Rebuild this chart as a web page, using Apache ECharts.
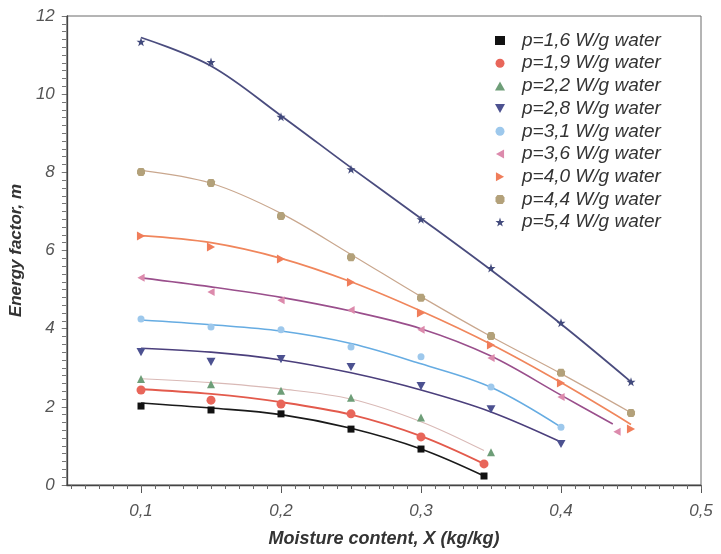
<!DOCTYPE html>
<html>
<head>
<meta charset="utf-8">
<script src="https://cdn.jsdelivr.net/npm/echarts@6/dist/echarts.min.js"></script>
<style>
  html, body { margin: 0; padding: 0; background: #ffffff; }
  #chart { width: 721px; height: 554px; }
</style>
</head>
<body>
<div id="chart"></div>
<script>
// Axis ticks and their printed labels (decimal comma)
const xTickValues = [0.1, 0.2, 0.3, 0.4, 0.5];
const xTickLabels = ['0,1', '0,2', '0,3', '0,4', '0,5'];
const yTickLabels = ['0', '2', '4', '6', '8', '10', '12'];

// Legend entries, one per microwave power level
const seriesNames = [
  'p=1,6 W/g water', 'p=1,9 W/g water', 'p=2,2 W/g water',
  'p=2,8 W/g water', 'p=3,1 W/g water', 'p=3,6 W/g water',
  'p=4,0 W/g water', 'p=4,4 W/g water', 'p=5,4 W/g water'
];

// Measured energy factor m vs. moisture content X, and the fitted curve at the same X
const x16 = [0.1, 0.15, 0.2, 0.25, 0.3, 0.345];
const m16 = [2.02, 1.92, 1.82, 1.43, 0.92, 0.23];
const fit16 = [2.10, 1.97, 1.80, 1.45, 0.92, 0.23];

const x19 = [0.1, 0.15, 0.2, 0.25, 0.3, 0.345];
const m19 = [2.43, 2.17, 2.07, 1.82, 1.23, 0.54];
const fit19 = [2.45, 2.33, 2.12, 1.80, 1.25, 0.54];

const x22 = [0.1, 0.15, 0.2, 0.25, 0.3, 0.35];
const m22 = [2.71, 2.58, 2.41, 2.23, 1.73, 0.84];
const fitX22 = [0.1, 0.15, 0.2, 0.25, 0.3, 0.345];
const fit22 = [2.72, 2.62, 2.46, 2.20, 1.62, 0.88];

const x28 = [0.1, 0.15, 0.2, 0.25, 0.3, 0.35, 0.4];
const m28 = [3.40, 3.15, 3.22, 3.02, 2.53, 1.94, 1.05];
const fit28 = [3.50, 3.40, 3.20, 2.87, 2.43, 1.87, 1.10];

const x31 = [0.1, 0.15, 0.2, 0.25, 0.3, 0.35, 0.4];
const m31 = [4.25, 4.04, 3.97, 3.53, 3.28, 2.51, 1.48];
const fit31 = [4.22, 4.10, 3.94, 3.62, 3.10, 2.50, 1.48];

const x36 = [0.1, 0.15, 0.2, 0.25, 0.3, 0.35, 0.4, 0.44];
const m36 = [5.30, 4.94, 4.73, 4.48, 3.97, 3.25, 2.25, 1.36];
const fitX36 = [0.1, 0.15, 0.2, 0.25, 0.3, 0.35, 0.4, 0.437];
const fit36 = [5.30, 5.07, 4.80, 4.45, 4.00, 3.30, 2.30, 1.56];

const x40 = [0.1, 0.15, 0.2, 0.25, 0.3, 0.35, 0.4, 0.45];
const m40 = [6.37, 6.09, 5.78, 5.19, 4.40, 3.58, 2.61, 1.43];
const fit40 = [6.38, 6.20, 5.80, 5.20, 4.45, 3.60, 2.62, 1.55];

const x44 = [0.1, 0.15, 0.2, 0.25, 0.3, 0.35, 0.4, 0.45];
const m44 = [8.01, 7.73, 6.88, 5.83, 4.79, 3.81, 2.87, 1.84];
const fit44 = [8.05, 7.72, 6.95, 5.90, 4.82, 3.80, 2.85, 1.85];

const x54 = [0.1, 0.15, 0.2, 0.25, 0.3, 0.35, 0.4, 0.45];
const m54 = [11.34, 10.82, 9.42, 8.08, 6.80, 5.55, 4.15, 2.64];
const fit54 = [11.45, 10.72, 9.45, 8.12, 6.82, 5.50, 4.12, 2.64];

// Marker shapes
const TRI_DOWN = 'path://M0,0 L10,0 L5,9 Z';
const TRI_LEFT = 'path://M9,0 L9,10 L0,5 Z';
const TRI_RIGHT = 'path://M0,0 L0,10 L9,5 Z';
const STAR = 'path://M5,0 L6.2,3.8 L10,3.8 L7,6.2 L8.1,10 L5,7.6 L1.9,10 L3,6.2 L0,3.8 L3.8,3.8 Z';
const BLOB = 'path://M2,0 L8,0 L10,3 L10,7 L8,10 L2,10 L0,7 L0,3 Z';

const groups = [
  { xs: x16, ys: m16, fx: x16, fy: fit16, symbol: 'rect', size: 7, color: '#111111', line: '#1a1a1a', lw: 1.6 },
  { xs: x19, ys: m19, fx: x19, fy: fit19, symbol: 'circle', size: 9, color: '#e8665a', line: '#e35a4c', lw: 1.8 },
  { xs: x22, ys: m22, fx: fitX22, fy: fit22, symbol: 'triangle', size: 8, color: '#6e9e78', line: '#d9b9b6', lw: 1.1 },
  { xs: x28, ys: m28, fx: x28, fy: fit28, symbol: TRI_DOWN, size: 9, color: '#4c5190', line: '#4b3f7c', lw: 1.6 },
  { xs: x31, ys: m31, fx: x31, fy: fit31, symbol: 'circle', size: 7, color: '#9dc8ec', line: '#66ace2', lw: 1.6 },
  { xs: x36, ys: m36, fx: fitX36, fy: fit36, symbol: TRI_LEFT, size: 8, color: '#dc8aac', line: '#9a4f8c', lw: 1.6 },
  { xs: x40, ys: m40, fx: x40, fy: fit40, symbol: TRI_RIGHT, size: 9, color: '#f07d5a', line: '#f0865c', lw: 1.7 },
  { xs: x44, ys: m44, fx: x44, fy: fit44, symbol: BLOB, size: 8, color: '#b3a17a', line: '#c9a78e', lw: 1.2 },
  { xs: x54, ys: m54, fx: x54, fy: fit54, symbol: STAR, size: 9, color: '#424a7c', line: '#4a4c7e', lw: 1.8 }
];

const pairs = (xs, ys) => xs.map((x, i) => [x, ys[i]]);

const series = [];
groups.forEach((g, i) => {
  series.push({
    name: seriesNames[i] + ' fit',
    type: 'line',
    data: pairs(g.fx, g.fy),
    smooth: 0.35,
    showSymbol: false,
    silent: true,
    lineStyle: { color: g.line, width: g.lw },
    z: 2
  });
});
groups.forEach((g, i) => {
  series.push({
    name: seriesNames[i],
    type: 'scatter',
    data: pairs(g.xs, g.ys),
    symbol: g.symbol,
    symbolSize: g.size,
    symbolKeepAspect: true,
    itemStyle: { color: g.color, opacity: 1 },
    z: 3
  });
});

// Fine ticks every 0.01 along X
const xMinor = [];
for (let k = 5; k <= 50; k++) xMinor.push(+(k / 100).toFixed(2));

const X_MIN = 0.047, X_MAX = 0.5;
const GRID = { left: 62, right: 20, top: 16, bottom: 69 };
const GRID_W = 721 - GRID.left - GRID.right;
const GRID_H = 554 - GRID.top - GRID.bottom;
const labelFont = { fontFamily: 'Liberation Sans, Arial, sans-serif', fontStyle: 'italic', color: '#555555' };
const hiddenLine = { show: true, lineStyle: { color: 'rgba(0,0,0,0)', width: 0 } };

const chart = echarts.init(document.getElementById('chart'), null, { renderer: 'canvas' });
chart.setOption({
  animation: false,
  backgroundColor: '#ffffff',
  grid: { ...GRID, show: true, borderColor: '#6a6a6a', borderWidth: 1, backgroundColor: 'transparent' },
  legend: {
    data: seriesNames,
    orient: 'vertical',
    left: 495,
    top: 31,
    padding: 0,
    itemWidth: 10,
    itemHeight: 9,
    itemGap: 3.7,
    symbolKeepAspect: true,
    textStyle: {
      fontFamily: 'Liberation Sans, Arial, sans-serif', fontStyle: 'italic', fontSize: 19,
      color: '#333333', lineHeight: 18, padding: [0, 0, 0, 12]
    }
  },
  xAxis: [
    {
      type: 'value', min: X_MIN, max: X_MAX, position: 'bottom',
      name: 'Moisture content, X (kg/kg)',
      nameLocation: 'middle', nameGap: 45,
      nameTextStyle: { fontFamily: 'Liberation Sans, Arial, sans-serif', fontStyle: 'italic', fontWeight: 'bold', fontSize: 18, color: '#333333' },
      axisLine: { show: true, lineStyle: { color: '#444444', width: 1.3 } },
      axisTick: { show: true, length: 8, customValues: xTickValues, lineStyle: { color: '#555555' } },
      axisLabel: {
        customValues: xTickValues,
        formatter: v => xTickLabels[xTickValues.findIndex(t => Math.abs(t - v) < 1e-6)] || '',
        fontSize: 17, margin: 18, ...labelFont
      },
      splitLine: { show: false }
    },
    {
      // overlay for the short 0.01 ticks, shifted down onto the bottom edge
      type: 'value', min: X_MIN, max: X_MAX, position: 'top', offset: -GRID_H,
      axisLine: hiddenLine,
      axisTick: { show: true, inside: true, length: 4, customValues: xMinor, lineStyle: { color: '#666666' } },
      axisLabel: { show: false },
      splitLine: { show: false }
    }
  ],
  yAxis: [
    {
      type: 'value', min: 0, max: 12, interval: 2, position: 'left',
      name: 'Energy factor, m',
      nameLocation: 'middle', nameGap: 30,
      nameTextStyle: { fontFamily: 'Liberation Sans, Arial, sans-serif', fontStyle: 'italic', fontWeight: 'bold', fontSize: 17, color: '#333333' },
      axisLine: { show: true, lineStyle: { color: '#444444', width: 1.3 } },
      axisTick: { show: true, length: 5, lineStyle: { color: '#555555' } },
      axisLabel: { formatter: v => yTickLabels[Math.round(v / 2)], fontSize: 17, margin: 12, ...labelFont },
      splitLine: { show: false }
    },
    {
      // overlay for the short 0.2 ticks, shifted left onto the left edge
      type: 'value', min: 0, max: 12, interval: 0.2, position: 'right', offset: -GRID_W,
      axisLine: hiddenLine,
      axisTick: { show: true, inside: false, length: 4, lineStyle: { color: '#777777' } },
      axisLabel: { show: false },
      splitLine: { show: false }
    }
  ],
  series: series
});
</script>
</body>
</html>
